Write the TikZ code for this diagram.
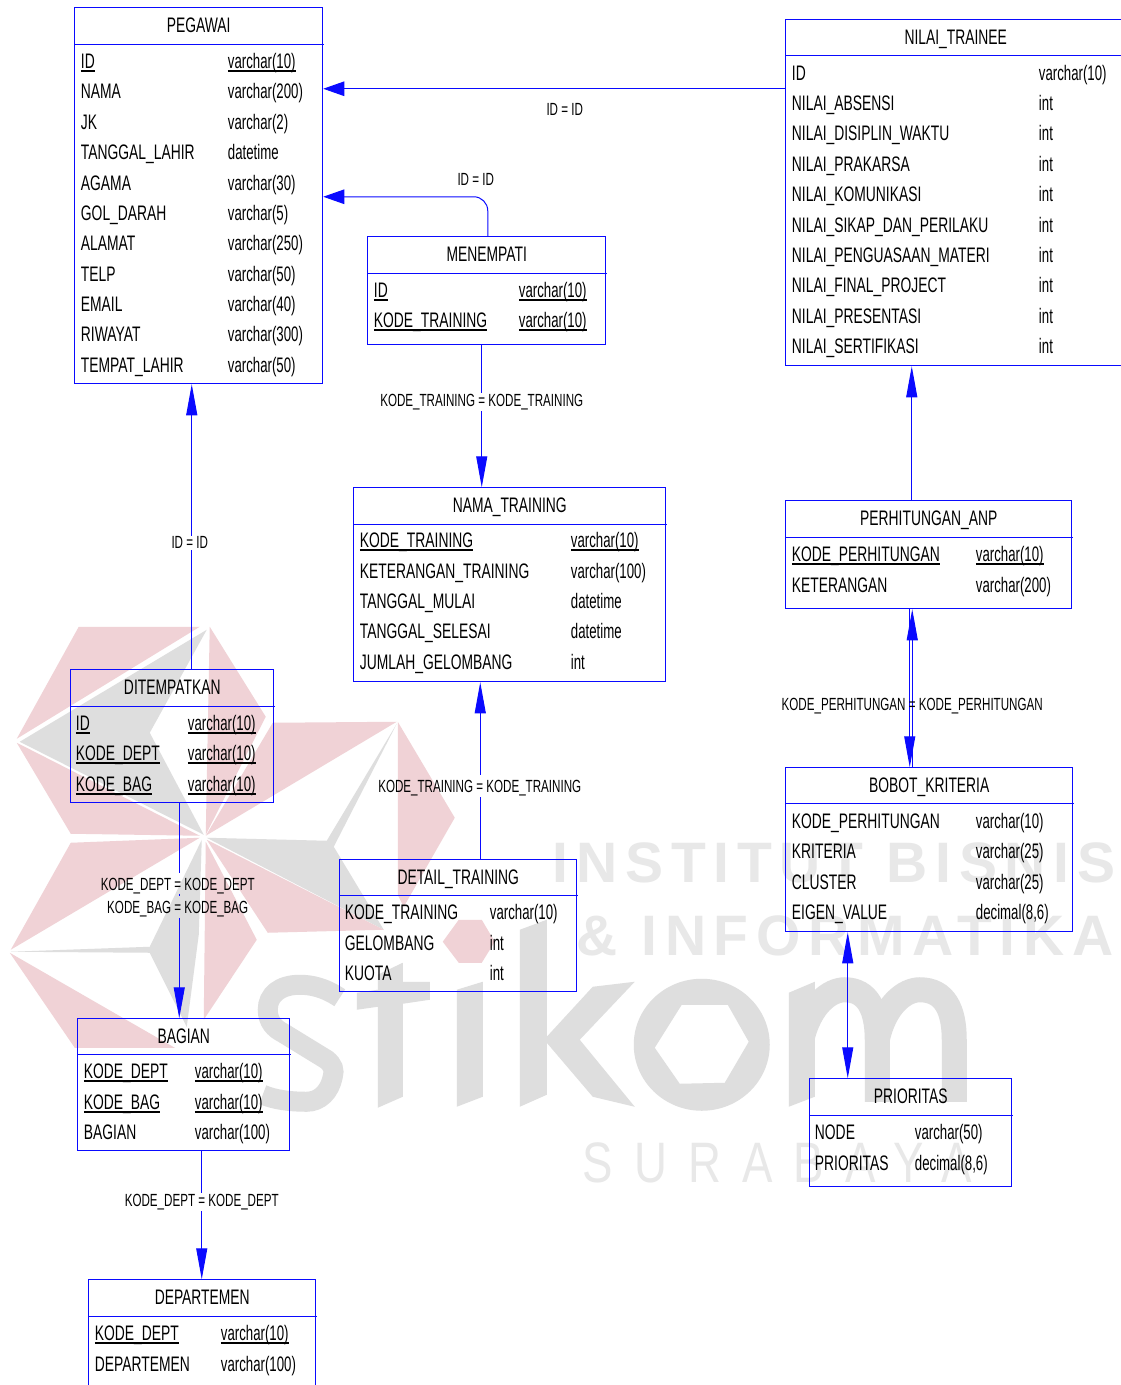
\documentclass[tikz,border=0pt]{standalone}
\usepackage{fontspec}
\usetikzlibrary{arrows.meta}
\setmainfont[FakeStretch=0.66]{Liberation Sans}
\newfontfamily\typefont[FakeStretch=0.63]{Liberation Sans}
\newfontfamily\wmbold[LetterSpace=13.5]{Liberation Sans}
\newfontfamily\wmlight[FakeStretch=0.8,LetterSpace=37]{Liberation Sans}
\definecolor{erblue}{RGB}{10,10,255}
\definecolor{wmred}{RGB}{240,210,214}
\definecolor{wmgray}{RGB}{222,222,222}
\definecolor{wmtext}{RGB}{232,232,232}
\newcounter{rowcnt}
\newcommand\ulbox[1]{\setbox0\hbox{#1}\rlap{\rule[-3.6pt]{\wd0}{1.5pt}}\box0}
\newcommand\fs{\fontsize{21}{24}\selectfont}
\newcommand\ls{\fontsize{17.6}{20}\selectfont}
\tikzset{
 tbl/.style={draw=erblue,line width=1pt,inner sep=0pt},
 tblline/.style={draw=erblue,line width=1pt},
 celltext/.style={anchor=base west,inner sep=0pt,font=\fs,text=black},
 typetext/.style={anchor=base west,inner sep=0pt,font=\typefont\fs,text=black},
 titletext/.style={anchor=base,inner sep=0pt,font=\fs,text=black},
 conn/.style={draw=erblue,line width=1pt},
 varrow/.style={conn,-{Triangle[length=31pt,width=11pt,fill=erblue]}},
 harrow/.style={conn,-{Triangle[length=21pt,width=14.5pt,fill=erblue]}},
 varrowboth/.style={conn,{Triangle[length=31pt,width=11pt,fill=erblue]}-{Triangle[length=31pt,width=11pt,fill=erblue]}},
 lab/.style={font=\ls,text=black,fill=white,inner xsep=1pt,inner ysep=1pt},
 labnofill/.style={font=\ls,text=black,inner sep=0pt},
 wr/.style={fill=wmred,draw=none},
 wg/.style={fill=wmgray,draw=none},
}
% name, x0, y0, x1, y1, header y, title
\newcommand\erbox{\erboxa}
\newcommand\erboxa[7]{%
 \node[tbl,minimum width={(#4)*1pt-(#2)*1pt},minimum height={(#5)*1pt-(#3)*1pt}] (#1) at ({((#2)+(#4))/2},{((#3)+(#5))/2}) {};
 \draw[tblline] (#2,#6) -- ({#4+1},#6);
 \node[titletext] (#1-title) at ({((#2)+(#4))/2},{((#3)+(#6))/2+6.5}) {#7};
}
\newcommand\setcols[2]{\def\colA{#1}\def\colB{#2}}
\newcommand\rowt[3]{\stepcounter{rowcnt}%
 \node[celltext] (a\arabic{rowcnt}) at (\colA,{#1+7.5}) {#2};
 \node[typetext] (b\arabic{rowcnt}) at (\colB,{#1+7.5}) {#3};}
\newcommand\rowu[3]{\rowt{#1}{\ulbox{#2}}{\ulbox{#3}}}
\begin{document}
\begin{tikzpicture}[x=1pt,y=-1pt]
\useasboundingbox (0.25,0.25) rectangle (1120.25,1385.25);
\fill[white] (0,0) rectangle (1121,1386);

% watermark under the diagram
 \fill[wr] (17,739) -- (79,627) -- (200,627) -- cycle;
 \fill[wg] (20,742) -- (207,630) -- (150,733) -- (204,835) -- cycle;
 \fill[wr] (17,743) -- (71,834) -- (200,836) -- cycle;
 \fill[wr] (210,627) -- (266,717) -- (206,835) -- cycle;
 \fill[wr] (273,723) -- (397,722) -- (206,836) -- cycle;
 \fill[wg] (207,838) -- (327,841) -- (397,724) -- (334,847) -- (384,930) -- cycle;
 \fill[wr] (207,840) -- (268,933) -- (384,930) -- cycle;
 \fill[wr] (398,722) -- (455,818) -- (404,907) -- (398,895) -- cycle;
 \fill[wr] (71,843) -- (200,838) -- (11,950) -- cycle;
 \fill[wg] (202,840) -- (150,947) -- (11,952) -- (150,953) -- (187,1027) -- (199,935) -- cycle;
 \fill[wr] (10,953) -- (75,1048) -- (175,1048) -- cycle;
 \fill[wr] (206,842) -- (257,940) -- (204,1020) -- cycle;
 % dot of the i
 \fill[wr] (443,942) -- (459,920) -- (482,920) -- (495,942) -- (482,963) -- (459,963) -- cycle;
 % s
 \draw[wmgray,line width=20pt] (340,998) .. controls (325,988) and (312,985) .. (300,985)
   .. controls (280,985) and (268,995) .. (268,1010)
   .. controls (268,1022) and (275,1029) .. (283,1033)
   -- (327,1060) .. controls (333,1065) and (335,1070) .. (333,1077)
   .. controls (330,1092) and (320,1102) .. (307,1102)
   .. controls (290,1102) and (275,1100) .. (263,1095);
 % t
 \fill[wg] (378,975) -- (403,963) -- (403,982) -- (430,982) -- (430,1000) -- (403,1004) -- (403,1097) -- (378,1108) -- (378,1007) -- (357,1010) -- (357,993) -- (378,990) -- cycle;
 % i
 \fill[wg] (457,990) -- (483,982) -- (483,1097) -- (457,1107) -- cycle;
 % k
 \fill[wg] (520,930) -- (547,920) -- (547,1037) -- (593,987) -- (635,982) -- (580,1040) -- (635,1107) -- (593,1097) -- (547,1043) -- (547,1095) -- (520,1107) -- cycle;
 % o
 \fill[wg,even odd rule] (702,1045) ellipse [x radius=68,y radius=66]
   (655,1048) -- (682,1005) -- (728,1005) -- (749,1042) -- (725,1083) -- (680,1084) -- cycle;
 % m
 \fill[wg] (789,993) -- (815,982) -- (815,1097) -- (789,1107) -- cycle;
 \draw[wmgray,line width=25pt] (802,1040) .. controls (810,1005) and (830,990) .. (845,990)
   .. controls (868,990) and (877.5,1010) .. (877.5,1040) -- (877.5,1102);
 \draw[wmgray,line width=25pt] (877.5,1040) .. controls (885,1005) and (905,990) .. (920,990)
   .. controls (945,990) and (954.5,1010) .. (954.5,1040) -- (954.5,1102);
 % watermark texts
 \node[anchor=base west,inner sep=0pt,text=wmtext,font={\wmbold\bfseries\fontsize{57}{60}\selectfont}] (w1) at (553,883) {INSTITUT BISNIS};
 \node[anchor=base west,inner sep=0pt,text=wmtext,font={\wmbold\bfseries\fontsize{57}{60}\selectfont}] (w2) at (577,956) {\&\ INFORMATIKA};
 \node[anchor=base west,inner sep=0pt,text=wmtext,font={\wmlight\fontsize{57}{60}\selectfont}] (w3) at (583,1183) {SURABAYA};

\erbox{pegawai}{75}{8}{323}{384}{45}{PEGAWAI}
\setcols{81}{228}
\rowu{61}{ID}{varchar(10)}
\rowt{91}{NAMA}{varchar(200)}
\rowt{122}{JK}{varchar(2)}
\rowt{152}{TANGGAL\_LAHIR}{datetime}
\rowt{183}{AGAMA}{varchar(30)}
\rowt{213}{GOL\_DARAH}{varchar(5)}
\rowt{243}{ALAMAT}{varchar(250)}
\rowt{274}{TELP}{varchar(50)}
\rowt{304}{EMAIL}{varchar(40)}
\rowt{334}{RIWAYAT}{varchar(300)}
\rowt{365}{TEMPAT\_LAHIR}{varchar(50)}

\erbox{nilai}{786}{20}{1126}{366}{56}{NILAI\_TRAINEE}
\setcols{792}{1039}
\rowt{73}{ID}{varchar(10)}
\rowt{103}{NILAI\_ABSENSI}{int}
\rowt{133}{NILAI\_DISIPLIN\_WAKTU}{int}
\rowt{164}{NILAI\_PRAKARSA}{int}
\rowt{194}{NILAI\_KOMUNIKASI}{int}
\rowt{225}{NILAI\_SIKAP\_DAN\_PERILAKU}{int}
\rowt{255}{NILAI\_PENGUASAAN\_MATERI}{int}
\rowt{285}{NILAI\_FINAL\_PROJECT}{int}
\rowt{316}{NILAI\_PRESENTASI}{int}
\rowt{346}{NILAI\_SERTIFIKASI}{int}

\erbox{menempati}{368}{237}{606}{345}{274}{MENEMPATI}
\setcols{374}{519}
\rowu{290}{ID}{varchar(10)}
\rowu{320}{KODE\_TRAINING}{varchar(10)}

\erbox{nama}{354}{488}{666}{682}{525}{NAMA\_TRAINING}
\setcols{360}{571}
\rowu{540}{KODE\_TRAINING}{varchar(10)}
\rowt{571}{KETERANGAN\_TRAINING}{varchar(100)}
\rowt{601}{TANGGAL\_MULAI}{datetime}
\rowt{631}{TANGGAL\_SELESAI}{datetime}
\rowt{662}{JUMLAH\_GELOMBANG}{int}

\erbox{perh}{786}{501}{1072}{609}{538}{PERHITUNGAN\_ANP}
\setcols{792}{976}
\rowu{554}{KODE\_PERHITUNGAN}{varchar(10)}
\rowt{585}{KETERANGAN}{varchar(200)}

\erbox{bobot}{786}{768}{1073}{932}{804}{BOBOT\_KRITERIA}
\setcols{792}{976}
\rowt{821}{KODE\_PERHITUNGAN}{varchar(10)}
\rowt{851}{KRITERIA}{varchar(25)}
\rowt{882}{CLUSTER}{varchar(25)}
\rowt{912}{EIGEN\_VALUE}{decimal(8,6)}

\erbox{ditem}{71}{670}{274}{803}{707}{DITEMPATKAN}
\setcols{76}{188}
\rowu{723}{ID}{varchar(10)}
\rowu{753}{KODE\_DEPT}{varchar(10)}
\rowu{784}{KODE\_BAG}{varchar(10)}

\erbox{detail}{340}{860}{577}{992}{896}{DETAIL\_TRAINING}
\setcols{345}{490}
\rowt{912}{KODE\_TRAINING}{varchar(10)}
\rowt{943}{GELOMBANG}{int}
\rowt{973}{KUOTA}{int}

\erbox{bagian}{78}{1019}{290}{1151}{1055}{BAGIAN}
\setcols{84}{195}
\rowu{1071}{KODE\_DEPT}{varchar(10)}
\rowu{1102}{KODE\_BAG}{varchar(10)}
\rowt{1132}{BAGIAN}{varchar(100)}

\erbox{prior}{810}{1079}{1012}{1187}{1116}{PRIORITAS}
\setcols{815}{915}
\rowt{1132}{NODE}{varchar(50)}
\rowt{1163}{PRIORITAS}{decimal(8,6)}

\erbox{depart}{89}{1280}{316}{1392}{1317}{DEPARTEMEN}
\setcols{95}{221}
\rowu{1333}{KODE\_DEPT}{varchar(10)}
\rowt{1364}{DEPARTEMEN}{varchar(100)}

% break points where a connector stops for its label
\coordinate (gapDa) at (179.5,873);
\coordinate (gapDb) at (179.5,894);
\coordinate (gapDc) at (179.5,896);
\coordinate (gapDd) at (179.5,918);
\coordinate (gapTa) at (480.5,797);
\coordinate (gapTb) at (480.5,775);

% connectors
\draw[harrow] ([yshift=104pt]nilai.west) -- ([yshift=107pt]pegawai.east);
\draw[harrow,rounded corners=14pt] ([xshift=1pt]menempati.north) |- ([yshift=-1pt]pegawai.east);
\draw[varrow] ([xshift=-5pt]menempati.south) -- ([xshift=-28pt]nama.north);
\draw[varrow] ([xshift=19.5pt]ditem.north) -- ([xshift=-7pt]pegawai.south);
\draw[conn] ([xshift=7pt]ditem.south) -- (gapDa);
\draw[conn] (gapDb) -- (gapDc);
\draw[varrow] (gapDd) -- ([xshift=-4.5pt]bagian.north);
\draw[varrow] ([xshift=18pt]bagian.south) -- ([xshift=-0.5pt]depart.north);
\draw[conn] ([xshift=22pt]detail.north) -- (gapTa);
\draw[varrow] (gapTb) -- ([xshift=-29.5pt]nama.south);
\draw[varrow] ([xshift=-17pt]perh.north) -- ([xshift=-44pt]nilai.south);
\draw[varrow] ([xshift=-17pt]bobot.north) -- ([xshift=-16.5pt]perh.south);
\draw[varrow] ([xshift=-19pt]perh.south) -- ([xshift=-19.5pt]bobot.north);
\draw[varrowboth] ([xshift=-81.5pt]bobot.south) -- ([xshift=-63pt]prior.north);

% connector labels
\node[labnofill] (l1) at (565,110) {ID = ID};
\node[labnofill] (l2) at (476,180) {ID = ID};
\node[lab] (l3) at (482,402) {KODE\_TRAINING = KODE\_TRAINING};
\node[lab] (l4) at (190,543) {ID = ID};
\node[labnofill] (l5) at (178,886) {KODE\_DEPT = KODE\_DEPT};
\node[labnofill] (l6) at (178,909.5) {KODE\_BAG = KODE\_BAG};
\node[lab] (l7) at (202,1202) {KODE\_DEPT = KODE\_DEPT};
\node[labnofill] (l8) at (480,788) {KODE\_TRAINING = KODE\_TRAINING};
\node[labnofill] (l9) at (912.5,706) {KODE\_PERHITUNGAN = KODE\_PERHITUNGAN};
\end{tikzpicture}
\end{document}
